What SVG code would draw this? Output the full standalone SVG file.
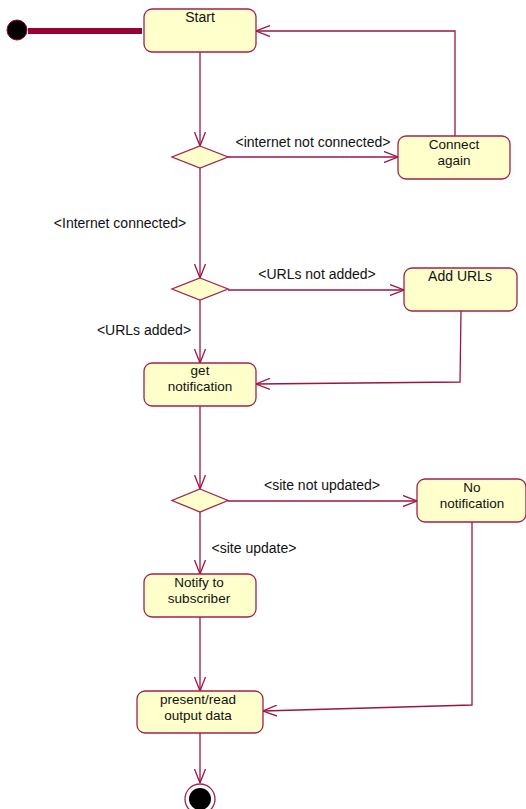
<svg xmlns="http://www.w3.org/2000/svg" width="526" height="809" viewBox="0 0 526 809">
<style>
.node{fill:#ffffcc;stroke:#a3204f;stroke-width:1.3}
.t{font-family:"Liberation Sans",Arial,sans-serif;font-size:14px;fill:#111;text-anchor:middle}
.n{font-size:13.5px}
.c{fill:none;stroke:#9c1444;stroke-width:1.3}
</style>
<defs>
<marker id="arr" viewBox="0 0 14 12" refX="14" refY="6" markerWidth="14" markerHeight="12" markerUnits="userSpaceOnUse" orient="auto">
<path d="M0,0.5 L14,6 L0,11.5" fill="none" stroke="#9c1444" stroke-width="1.3"/>
</marker>
</defs>
<rect width="526" height="809" fill="#ffffff"/>
<g id="connectors">
<line x1="28" y1="31" x2="142" y2="31" stroke="#990033" stroke-width="6"/>
<line class="c" x1="200" y1="52" x2="200" y2="146" marker-end="url(#arr)"/>
<line class="c" x1="228" y1="157" x2="398" y2="157" marker-end="url(#arr)"/>
<polyline class="c" points="455,136 455,31 256,31" marker-end="url(#arr)"/>
<line class="c" x1="200" y1="168" x2="200" y2="278" marker-end="url(#arr)"/>
<line class="c" x1="228" y1="290" x2="404" y2="290" marker-end="url(#arr)"/>
<polyline class="c" points="461,311 460,382 256,384" marker-end="url(#arr)"/>
<line class="c" x1="200" y1="300" x2="200" y2="363" marker-end="url(#arr)"/>
<line class="c" x1="200" y1="406" x2="200" y2="489" marker-end="url(#arr)"/>
<line class="c" x1="228" y1="501" x2="417" y2="501" marker-end="url(#arr)"/>
<line class="c" x1="200" y1="512" x2="200" y2="574" marker-end="url(#arr)"/>
<polyline class="c" points="472,522 472,705 263,711" marker-end="url(#arr)"/>
<line class="c" x1="200" y1="617" x2="200" y2="691" marker-end="url(#arr)"/>
<line class="c" x1="200" y1="733" x2="200" y2="783" marker-end="url(#arr)"/>
<text class="t" x="313" y="147">&lt;internet not connected&gt;</text>
<text class="t" x="120" y="228">&lt;Internet connected&gt;</text>
<text class="t" x="317" y="279">&lt;URLs not added&gt;</text>
<text class="t" x="144" y="335">&lt;URLs added&gt;</text>
<text class="t" x="322" y="490">&lt;site not updated&gt;</text>
<text class="t" x="254" y="553">&lt;site update&gt;</text>
</g>
<g id="initial">
<circle cx="17" cy="30" r="10" fill="#000" stroke="#990033" stroke-width="1"/>
</g>
<g id="start">
<rect class="node" x="144" y="9" width="112" height="43" rx="8"/>
<text class="t" x="200" y="22">Start</text>
</g>
<g id="decision1">
<polygon class="node" points="200,146 228,157 200,168 172,157"/>
</g>
<g id="connect-again">
<rect class="node" x="398" y="136" width="112" height="43" rx="8"/>
<text class="t n" x="454" y="149">Connect</text>
<text class="t n" x="454" y="165">again</text>
</g>
<g id="decision2">
<polygon class="node" points="200,278 228,289 200,300 172,289"/>
</g>
<g id="add-urls">
<rect class="node" x="404" y="268" width="113" height="43" rx="8"/>
<text class="t" x="460" y="281">Add URLs</text>
</g>
<g id="get-notification">
<rect class="node" x="144" y="363" width="112" height="43" rx="8"/>
<text class="t n" x="200" y="375">get</text>
<text class="t n" x="200" y="391">notification</text>
</g>
<g id="decision3">
<polygon class="node" points="200,489 228,500.5 200,512 172,500.5"/>
</g>
<g id="no-notification">
<rect class="node" x="417" y="479" width="109" height="43" rx="8"/>
<text class="t n" x="472" y="492">No</text>
<text class="t n" x="472" y="508">notification</text>
</g>
<g id="notify-subscriber">
<rect class="node" x="144" y="574" width="112" height="43" rx="8"/>
<text class="t n" x="199" y="587">Notify to</text>
<text class="t n" x="199" y="603">subscriber</text>
</g>
<g id="present-output">
<rect class="node" x="137" y="691" width="126" height="42" rx="8"/>
<text class="t n" x="198" y="704">present/read</text>
<text class="t n" x="198" y="720">output data</text>
</g>
<g id="final">
<circle cx="200" cy="799" r="15" fill="#fff" stroke="#a3204f" stroke-width="1.3"/>
<circle cx="200" cy="799" r="11" fill="#000"/>
</g>
</svg>
